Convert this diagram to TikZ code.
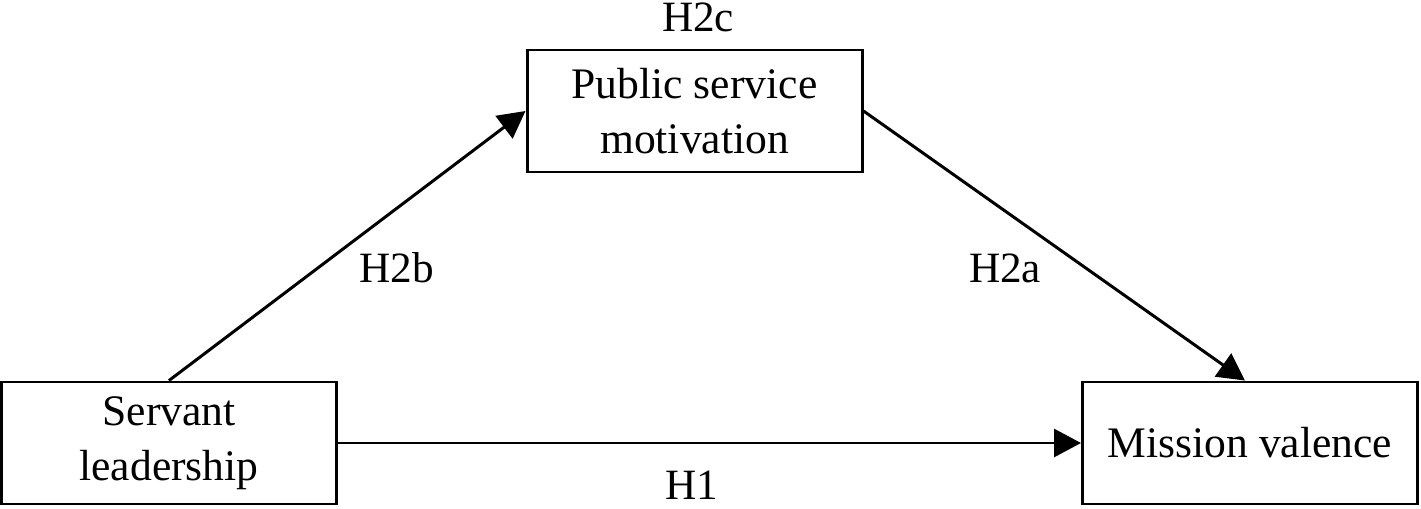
\documentclass[tikz,border=0pt]{standalone}
\usepackage{fontspec}
\setmainfont{Liberation Serif}
\usetikzlibrary{arrows.meta}
\begin{document}
\begin{tikzpicture}[>={Triangle[length=2.7mm,width=2.8mm]}]
        \tikzstyle{construct}=[rectangle,draw=black,line width=0.85pt,align=center,inner sep=0pt,minimum width=3.35cm,minimum height=1.22cm,font=\fontsize{12.4}{15.6}\selectfont]
        \tikzstyle{edge}=[draw,->,line width=0.85pt]
        \tikzstyle{hyp}=[font=\fontsize{12.3}{14}\selectfont]
        \useasboundingbox (0,0) rectangle (14.21,5.08);
         \node [construct] (sl) at (1.69,0.65) {Servant\\leadership};
         \node [construct] (psm) at (6.945,3.97) {Public service\\motivation};
         \node [construct] (mv) at (12.5,0.65) {Mission valence};
         \node [hyp] (h2c) at (6.98,4.91) {H2c};
         \node [hyp] (h2b) at (3.97,2.40) {H2b};
         \node [hyp] (h2a) at (10.05,2.40) {H2a};
         \node [hyp] (h1) at (6.92,0.23) {H1};
         \path (sl.north) edge [edge] (psm.west);
         \path (psm.east) edge [edge] ([xshift=-0.5mm]mv.north);
         \path (sl.east) edge [edge] (mv.west);
      \end{tikzpicture}
\end{document}
